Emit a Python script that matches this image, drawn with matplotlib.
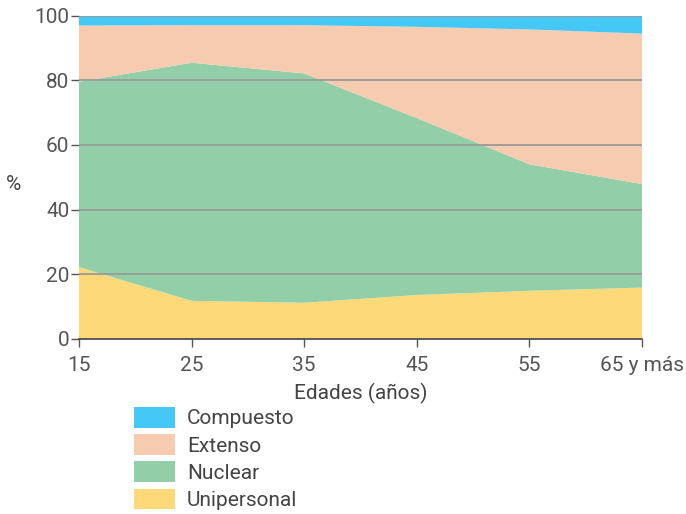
import matplotlib
matplotlib.use("Agg")
import matplotlib.pyplot as plt
from matplotlib.patches import Patch

plt.rcParams['font.family'] = ['Roboto', 'DejaVu Sans']

edades = ["15", "25", "35", "45", "55", "65 y más"]
unipersonal = [22.2, 11.8, 11.2, 13.6, 14.9, 15.9]
nuclear = [57.3, 73.6, 70.9, 54.7, 39.1, 32.0]
extenso = [17.4, 11.6, 14.9, 28.2, 41.7, 46.5]
compuesto = [3.1, 3.0, 3.0, 3.5, 4.3, 5.6]

colores = {
    "Unipersonal": "#fdd97a",
    "Nuclear": "#92cfa8",
    "Extenso": "#f7cbb0",
    "Compuesto": "#45c8f5",
}

FS = 15

fig = plt.figure(figsize=(6.86, 5.14), dpi=100)
ax = fig.add_axes([79 / 686, 1 - 339 / 514, (642 - 79) / 686, (339 - 15.5) / 514])

x = list(range(len(edades)))
series = [("Unipersonal", unipersonal), ("Nuclear", nuclear),
          ("Extenso", extenso), ("Compuesto", compuesto)]
ax.stackplot(x, *[v for _, v in series],
             colors=[colores[n] for n, _ in series], linewidth=0)

ax.set_xlim(0, len(edades) - 1)
ax.set_ylim(0, 100)
ax.set_yticks([0, 20, 40, 60, 80, 100])
ax.set_xticks(x)
ax.set_xticklabels(edades)
for yv in [20, 40, 60, 80, 100]:
    ax.axhline(yv, color="#9a9a9a", linewidth=1.3, zorder=3)

for s in ["top", "right", "left"]:
    ax.spines[s].set_visible(False)
ax.spines["bottom"].set_color("#444444")
ax.spines["bottom"].set_linewidth(1.2)
ax.spines["bottom"].set_zorder(4)
ax.tick_params(axis="both", colors="#555555", labelsize=FS, length=6, width=1)
ax.tick_params(axis="x", pad=6)
ax.tick_params(axis="y", pad=1)

ax.set_xlabel("Edades (años)", fontsize=FS, color="#444444", labelpad=6)
fig.text(14 / 686, 1 - 184 / 514, "%", fontsize=FS, color="#444444",
         ha="center", va="center")

handles = [Patch(facecolor=colores[n], edgecolor="none", label=n)
           for n in ["Compuesto", "Extenso", "Nuclear", "Unipersonal"]]
leg = fig.legend(handles=handles, loc="upper left",
                 bbox_to_anchor=(134 / 686, 1 - 407 / 514),
                 frameon=False, fontsize=FS, handlelength=1.97,
                 handleheight=1.15, labelspacing=0.28, handletextpad=0.58,
                 borderaxespad=0, borderpad=0)
for t in leg.get_texts():
    t.set_color("#444444")

fig.savefig("out.png", dpi=100)
